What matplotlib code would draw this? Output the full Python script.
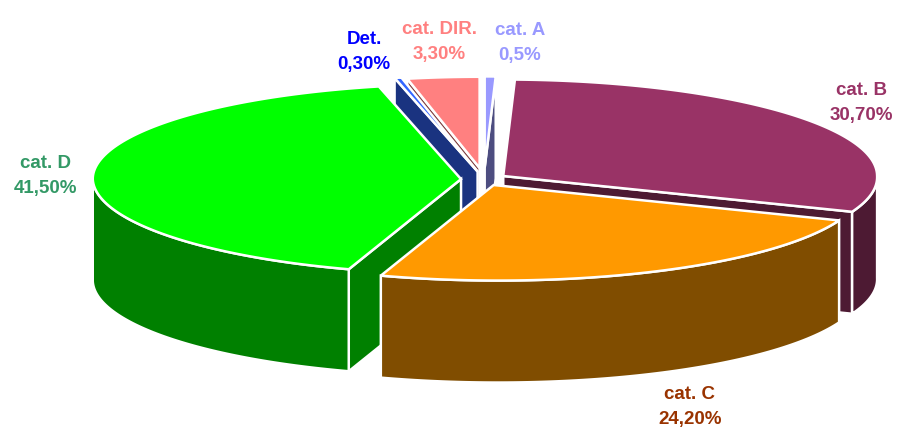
import numpy as np
import matplotlib
matplotlib.use("Agg")
import matplotlib.pyplot as plt
from matplotlib.patches import Polygon

# slices in clockwise order from 12 o'clock
labels = ["cat. A", "cat. B", "cat. C", "cat. D", "Det.", "cat. DIR."]
values = [0.5, 30.7, 24.2, 41.5, 0.3, 3.3]
value_labels = ["0,5%", "30,70%", "24,20%", "41,50%", "0,30%", "3,30%"]

top_colors = ["#9999ff", "#993366", "#ff9900", "#00ff00", "#3366ff", "#ff8080"]
side_colors = ["#4d4d80", "#4d1a33", "#804d00", "#008000", "#1a3380", "#804040"]
text_colors = ["#9999ff", "#993366", "#993300", "#339966", "#0000ff", "#ff8080"]
label_pos = [(520, 43), (861, 103), (690, 407), (46, 176), (364, 52), (439, 42)]

# explode and radius factors per slice, back slices look smaller (perspective)
explode = [1.9, 1.0, 1.0, 1.0, 1.3, 1.85]
radius = [0.95, 1.005, 0.995, 0.99, 1.0, 0.95]
# back to front, so the nearer slices cover the others
draw_order = [5, 0, 1, 4, 3, 2]

CX, CY = 484, 179.4
RX, RY = 372, 96
EX, EY = 23, 6.2
DEPTH = 102
SHEAR = 4.5  # front of the rim leans a little to the right
EDGE = dict(edgecolor="white", linewidth=1.8, joinstyle="miter")


def rim(apex, r, deg):
    t = np.radians(deg)
    lean = SHEAR * np.clip(-np.cos(t), 0, None)
    return np.column_stack([apex[0] + r * RX * np.sin(t) + lean, apex[1] - r * RY * np.cos(t)])


def draw_slice(ax, a0, a1, ex, r, top, side):
    mid = np.radians((a0 + a1) / 2)
    apex = np.array([CX + ex * EX * np.sin(mid), CY - ex * EY * np.cos(mid)])
    down = np.array([0, DEPTH])
    inner = rim(apex, r, (a0 + a1) / 2)[0]

    # flat walls, only the ones facing the viewer
    for a in (a0, a1):
        q = rim(apex, r, a)[0]
        e = q - apex
        c1 = e[0] * down[1] - e[1] * down[0]
        c2 = e[0] * (inner - apex)[1] - e[1] * (inner - apex)[0]
        if c1 * c2 < 0:
            ax.add_patch(Polygon([apex, q, q + down, apex + down], facecolor=side, **EDGE))

    # outer curved wall on the front half of the ellipse
    f0, f1 = max(a0, 90), min(a1, 270)
    if f1 > f0:
        arc = rim(apex, r, np.linspace(f0, f1, 80))
        ax.add_patch(Polygon(np.vstack([arc, arc[::-1] + down]), facecolor=side, **EDGE))

    arc = rim(apex, r, np.linspace(a0, a1, 120))
    ax.add_patch(Polygon(np.vstack([apex, arc]), facecolor=top, **EDGE))


fig = plt.figure(figsize=(9.07, 4.40), dpi=100)
ax = fig.add_axes([0, 0, 1, 1])
ax.set_xlim(0, 907)
ax.set_ylim(440, 0)
ax.axis("off")

edges = np.concatenate([[0], np.cumsum(values)]) / sum(values) * 360
for i in draw_order:
    draw_slice(ax, edges[i], edges[i + 1], explode[i], radius[i], top_colors[i], side_colors[i])

for name, val, col, (x, y) in zip(labels, value_labels, text_colors, label_pos):
    ax.text(x, y, f"{name}\n{val}", color=col, ha="center", va="center", fontsize=13.5,
            fontweight="bold", family="Liberation Sans", linespacing=1.57)

fig.savefig("out.png", dpi=100)
